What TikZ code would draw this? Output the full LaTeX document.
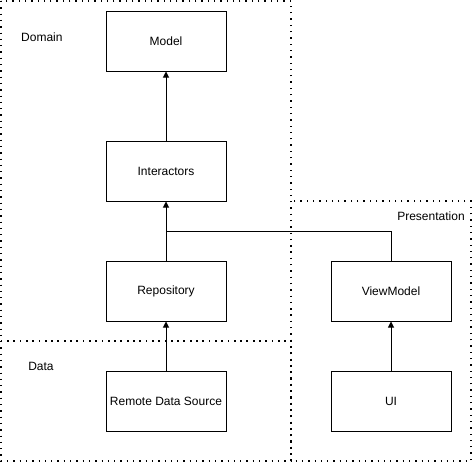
\documentclass[tikz,border=0pt]{standalone}
\usepackage{fontspec}
\setmainfont{Liberation Sans}
\usetikzlibrary{arrows.meta}
\begin{document}
\begin{tikzpicture}[x=1pt,y=-1pt,
  layer/.style={draw=black, line width=1.3pt, dash pattern=on 1.3pt off 5pt, line cap=butt},
  blk/.style={draw=black, line width=1pt, fill=white, minimum width=120pt, minimum height=60pt, inner sep=0pt, font=\fontsize{12}{14}\selectfont},
  lbl/.style={font=\fontsize{12}{14}\selectfont, inner sep=0pt},
  conn/.style={draw=black, line width=1pt, -{Triangle[length=6pt,width=6pt]}}]
\useasboundingbox (0,0) rectangle (473,463);
\fill[white] (0,0) rectangle (473,463);
% layers
\draw[layer] (1,1) rectangle (291,341);
\draw[layer] (1,341) rectangle (291,461);
\draw[layer] (291,201) rectangle (471,461);
% labels
\node[lbl, anchor=west] (ldomain) at (21,37) {Domain};
\node[lbl] (ldata) at (41,366) {Data};
\node[lbl] (lpres) at (431,216) {Presentation};
% blocks
\node[blk] (model) at (166,41) {Model};
\node[blk] (inter) at (166,171) {Interactors};
\node[blk] (repo) at (166,291) {Repository};
\node[blk] (remote) at (166,401) {Remote Data Source};
\node[blk] (vm) at (391,291) {ViewModel};
\node[blk] (ui) at (391,401) {UI};
% connectors
\draw[conn] (inter.north) -- (model.south);
\draw[conn] (repo.north) -- (inter.south);
\draw[conn] (remote.north) -- (repo.south);
\draw[conn] (ui.north) -- (vm.south);
\coordinate (j) at (166,231);
\draw[line width=1pt] (vm.north) |- (j);
\end{tikzpicture}
\end{document}
